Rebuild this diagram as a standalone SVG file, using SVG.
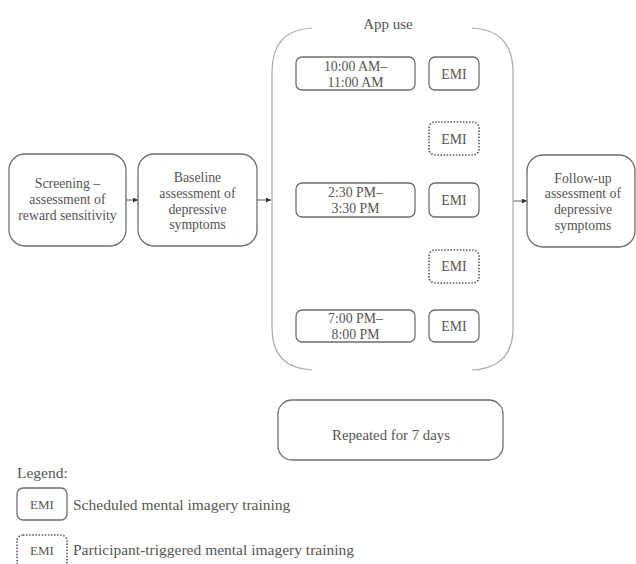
<svg xmlns="http://www.w3.org/2000/svg" width="636" height="564" viewBox="0 0 636 564">
<defs>
<marker id="arr" viewBox="0 0 6 6" refX="6" refY="3" markerWidth="5" markerHeight="5" orient="auto" markerUnits="userSpaceOnUse">
<path d="M0,0 L6,3 L0,6 z" fill="#333"/>
</marker>
<style>
.box{fill:#fff;stroke:#6e6e6e;stroke-width:1.3}
.dot{fill:#fff;stroke:#555;stroke-width:1.6;stroke-dasharray:1.5 1.6}
.t{font-family:"Liberation Serif","Times New Roman",serif;font-size:13.8px;fill:#555;text-anchor:middle}
.lg{font-family:"Liberation Serif","Times New Roman",serif;font-size:15.5px;fill:#555}
.conn{stroke:#555;stroke-width:1;fill:none}
.cont{stroke:#aaa;stroke-width:1.2;fill:none}
</style>
</defs>
<rect width="636" height="564" fill="#fff"/>

<g id="connectors">
<line class="conn" x1="126" y1="200" x2="138" y2="200" marker-end="url(#arr)"/>
<line class="conn" x1="257" y1="200" x2="271" y2="200" marker-end="url(#arr)"/>
<line class="conn" x1="513" y1="201" x2="527" y2="201" marker-end="url(#arr)"/>
</g>

<g id="app-use">
<path class="cont" d="M312,28 Q272,30 272,72 L272,328 Q272,368 312,370"/>
<path class="cont" d="M472,28 Q513,30 513,72 L513,328 Q513,368 472,370"/>
<text class="t" x="388" y="29" style="font-size:15px">App use</text>
</g>

<g id="screening">
<rect class="box" x="9" y="154" width="117" height="92" rx="16"/>
<text class="t" x="67.5" y="188">Screening –</text>
<text class="t" x="67.5" y="204">assessment of</text>
<text class="t" x="67.5" y="220">reward sensitivity</text>
</g>

<g id="baseline">
<rect class="box" x="138" y="154" width="119" height="92" rx="16"/>
<text class="t" x="197.5" y="182">Baseline</text>
<text class="t" x="197.5" y="198">assessment of</text>
<text class="t" x="197.5" y="214">depressive</text>
<text class="t" x="197.5" y="229">symptoms</text>
</g>

<g id="followup">
<rect class="box" x="527" y="155" width="108" height="92" rx="16"/>
<text class="t" x="583" y="183">Follow-up</text>
<text class="t" x="583" y="198">assessment of</text>
<text class="t" x="583" y="214">depressive</text>
<text class="t" x="583" y="230">symptoms</text>
</g>

<g id="time1">
<rect class="box" x="296" y="57" width="119" height="33" rx="6"/>
<text class="t" x="355.5" y="71">10:00 AM–</text>
<text class="t" x="355.5" y="87">11:00 AM</text>
</g>
<g id="emi1">
<rect class="box" x="429" y="57" width="50" height="33" rx="6"/>
<text class="t" x="454" y="79">EMI</text>
</g>
<g id="emi-d1">
<rect class="dot" x="429" y="122" width="50" height="33" rx="6"/>
<text class="t" x="454" y="144">EMI</text>
</g>
<g id="time2">
<rect class="box" x="296" y="183" width="119" height="34" rx="6"/>
<text class="t" x="355.5" y="197">2:30 PM–</text>
<text class="t" x="355.5" y="213">3:30 PM</text>
</g>
<g id="emi2">
<rect class="box" x="429" y="183" width="50" height="34" rx="6"/>
<text class="t" x="454" y="205">EMI</text>
</g>
<g id="emi-d2">
<rect class="dot" x="429" y="250" width="50" height="33" rx="6"/>
<text class="t" x="454" y="271">EMI</text>
</g>
<g id="time3">
<rect class="box" x="296" y="310" width="119" height="32" rx="6"/>
<text class="t" x="355.5" y="323">7:00 PM–</text>
<text class="t" x="355.5" y="339">8:00 PM</text>
</g>
<g id="emi3">
<rect class="box" x="429" y="310" width="50" height="32" rx="6"/>
<text class="t" x="454" y="331">EMI</text>
</g>

<g id="repeated">
<rect class="box" x="278" y="400" width="225" height="60" rx="14"/>
<text class="t" x="391" y="440" style="font-size:14.8px">Repeated for 7 days</text>
</g>

<g id="legend">
<text class="lg" x="17" y="478">Legend:</text>
<rect class="box" x="17" y="488" width="50" height="32" rx="6"/>
<text class="t" x="42" y="509" style="font-size:13px">EMI</text>
<text class="lg" x="73" y="510">Scheduled mental imagery training</text>
<rect class="dot" x="17" y="535" width="50" height="34" rx="6"/>
<text class="t" x="42" y="555" style="font-size:13px">EMI</text>
<text class="lg" x="73" y="555">Participant-triggered mental imagery training</text>
</g>
</svg>
